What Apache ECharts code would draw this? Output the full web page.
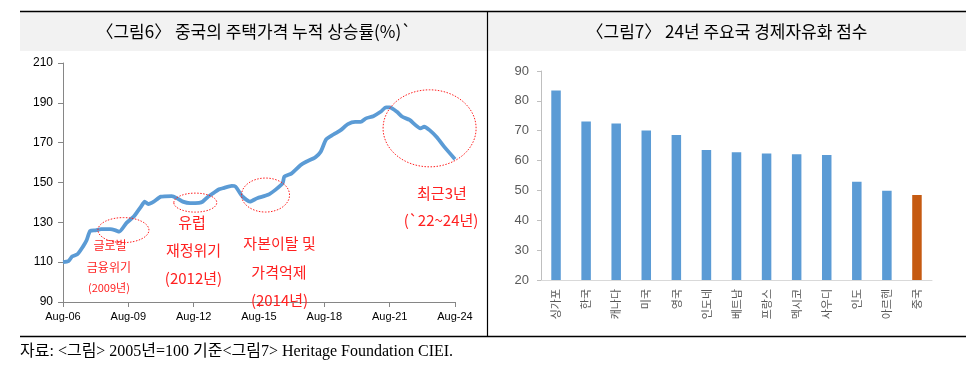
<!DOCTYPE html>
<html>
<head>
<meta charset="utf-8">
<script src="https://cdn.jsdelivr.net/npm/echarts@6/dist/echarts.min.js"></script>
<style>
html,body{margin:0;padding:0;background:#fff;}
#c{width:974px;height:366px;}
</style>
</head>
<body>
<div id="c"></div>
<script>
// ---- Left chart: China housing price index (2005=100) ----
const houseMonths = [0,3,5,8,11,13,15,18,21,26,29,31,35,39,41,43,45,47,50,54,60,63,66,70,75,77,80,83,86,88,93,95,99,103,107,113,117,121,122,126,131,134,139,142,145,149,153,157,161,164,167,171,175,178,180,184,187,191,197,199,202,206,210,216];
const houseValues = [110,110.5,112.8,114,117.8,121,125.7,126,126.6,126.6,126,125.3,129.7,132.9,135.4,137.9,140.4,139.2,140.4,142.9,143.2,142,140.4,139.6,139.8,140.4,142.9,144.8,146.6,147.1,148.3,148,142.9,140.4,142.1,143.8,146.3,149.6,153,154.6,158.8,160.4,162.6,165.4,171.6,174.1,176.3,179.3,180.4,180.4,182.2,183.3,185.5,187.7,187.7,185.5,183,181.4,177.2,178,176.3,172.7,168,161.7];
const houseTickLabels = ['Aug-06','Aug-09','Aug-12','Aug-15','Aug-18','Aug-21','Aug-24'];

// ---- Right chart: 2024 economic freedom scores ----
const countries = ['싱가포','한국','캐나다','미국','영국','인도네','베트남','프랑스','멕시코','사우디','인도','아르헨','중국'];
const scores = [83.5,73.1,72.4,70.1,68.6,63.5,62.8,62.4,62.1,61.9,52.9,49.9,48.5];

// annotations on the left chart: [month, value, text, fontSize]
const annoTexts = [
  [25.9,118.6,'글로벌',12],
  [25.3,107.6,'금융위기',12],
  [25.3,97.0,'(2009년)',11],
  [71.1,130.2,'유럽',15],
  [71.9,116.1,'재정위기',15],
  [71.9,102.0,'(2012년)',15],
  [119.3,119.6,'자본이탈 및',15],
  [119.0,105.1,'가격억제',15],
  [119.3,91.0,'(2014년)',15],
  [208.8,144.7,'최근3년',15],
  [208.3,131.2,'(`22~24년)',15]
];
// highlight ellipses: [month, value, rx, ry]
const annoEllipses = [
  [33.3,126.1,25.5,12.5],
  [72.9,139.9,21.5,9.5],
  [111.6,143.7,24,17],
  [202,177.2,46.5,38.5]
];

const chart = echarts.init(document.getElementById('c'), null, {renderer:'canvas'});
const red = '#ff2020';
const option = {
  animation:false,
  backgroundColor:'#fff',
  grid:[
    {left:63, top:63, width:392, height:239},
    {left:541, top:71, width:391, height:209}
  ],
  xAxis:[
    {type:'value', gridIndex:0, min:0, max:216, interval:36,
     axisLine:{show:true, lineStyle:{color:'#868686', width:1}},
     axisTick:{show:true, length:5, lineStyle:{color:'#868686'}},
     axisLabel:{color:'#000', fontSize:11, fontFamily:'Liberation Sans', margin:9,
       formatter:function(v){return houseTickLabels[Math.round(v/36)];}},
     splitLine:{show:false}},
    {type:'category', gridIndex:1, data:countries,
     axisLine:{show:true, lineStyle:{color:'#d9d9d9', width:1}},
     axisTick:{show:false},
     axisLabel:{color:'#595959', fontSize:11, fontFamily:'Noto Sans CJK KR', rotate:90, margin:9, interval:0}}
  ],
  yAxis:[
    {type:'value', gridIndex:0, min:90, max:210, interval:20,
     axisLine:{show:true, lineStyle:{color:'#868686', width:1}},
     axisTick:{show:true, length:5, lineStyle:{color:'#868686'}},
     axisLabel:{color:'#000', fontSize:12, fontFamily:'Liberation Sans', margin:10},
     splitLine:{show:false}},
    {type:'value', gridIndex:1, min:20, max:90, interval:10,
     axisLine:{show:true, lineStyle:{color:'#bfbfbf', width:1}},
     axisTick:{show:true, length:4, lineStyle:{color:'#bfbfbf'}},
     axisLabel:{color:'#595959', fontSize:13, fontFamily:'Liberation Sans', margin:12},
     splitLine:{show:false}}
  ],
  series:[
    {type:'line', xAxisIndex:0, yAxisIndex:0,
     data:houseMonths.map((m,i)=>[m,houseValues[i]]),
     showSymbol:false, smooth:0.2,
     lineStyle:{color:'#5b9bd5', width:3.8}},
    {type:'bar', xAxisIndex:1, yAxisIndex:1, barWidth:9.5,
     data:scores.map((s,i)=>({value:s, itemStyle:{color: i===scores.length-1 ? '#c55a11' : '#5b9bd5'}}))}
  ]
};
chart.setOption(option);

const g = [];
// title bands
g.push({type:'rect', shape:{x:20,y:12,width:467,height:39}, style:{fill:'#f2f2f2'}, z:0});
g.push({type:'rect', shape:{x:488,y:12,width:478,height:39}, style:{fill:'#f2f2f2'}, z:0});
// frame lines
g.push({type:'line', shape:{x1:20,y1:11.5,x2:966,y2:11.5}, style:{stroke:'#000',lineWidth:1.5}, z:5});
g.push({type:'line', shape:{x1:20,y1:336.5,x2:966,y2:336.5}, style:{stroke:'#000',lineWidth:1.5}, z:5});
g.push({type:'line', shape:{x1:487.5,y1:11,x2:487.5,y2:337}, style:{stroke:'#000',lineWidth:1.2}, z:5});
// titles
g.push({type:'text', x:254, y:32, style:{text:'〈그림6〉 중국의 주택가격 누적 상승률(%)`', font:'17px "Noto Sans CJK KR"', fill:'#000', align:'center', verticalAlign:'middle'}, z:6});
g.push({type:'text', x:727, y:32, style:{text:'〈그림7〉 24년 주요국 경제자유화 점수', font:'17px "Noto Sans CJK KR"', fill:'#000', align:'center', verticalAlign:'middle'}, z:6});
// footer
g.push({type:'text', x:20, y:352, style:{text:'자료: <그림> 2005년=100 기준<그림7> Heritage Foundation CIEI.', font:'16px "Liberation Serif", "Noto Sans CJK KR"', fill:'#000', align:'left', verticalAlign:'middle'}, z:6});
// annotations
annoEllipses.forEach(e=>{
  const p = chart.convertToPixel({xAxisIndex:0,yAxisIndex:0},[e[0],e[1]]);
  g.push({type:'ellipse', shape:{cx:p[0],cy:p[1],rx:e[2],ry:e[3]}, style:{fill:'none',stroke:red,lineWidth:1,lineDash:[1.5,1.5]}, z:10});
});
annoTexts.forEach(t=>{
  const p = chart.convertToPixel({xAxisIndex:0,yAxisIndex:0},[t[0],t[1]]);
  g.push({type:'text', x:p[0], y:p[1], style:{text:t[2], font:t[3]+'px "Noto Sans CJK KR"', fill:red, align:'center', verticalAlign:'middle'}, z:10});
});
chart.setOption({graphic:{elements:g}});
</script>
</body>
</html>
